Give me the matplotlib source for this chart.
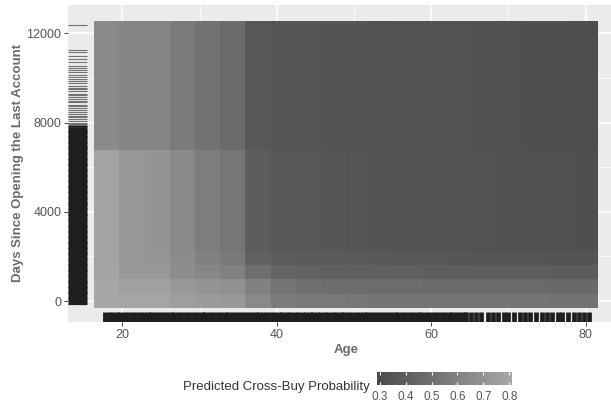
import numpy as np
import matplotlib.pyplot as plt
import matplotlib.transforms as mtransforms
from matplotlib.colors import LinearSegmentedColormap

plt.rcParams['font.family'] = ['Liberation Sans', 'DejaVu Sans']

# grid of the partial dependence (tile centres)
age_grid = [18.00, 21.26, 24.53, 27.79, 31.05, 34.32, 37.58, 40.84, 44.11, 47.37,
            50.63, 53.89, 57.16, 60.42, 63.68, 66.95, 70.21, 73.47, 76.74, 80.00]
days_grid = [0, 645, 1289, 1934, 2579, 3224, 3868, 4513, 5158, 5803,
             6447, 7092, 7737, 8382, 9026, 9671, 10316, 10961, 11605, 12250]

# predicted cross-buy probability per age column, for each band of days
pd_row0 = [0.815, 0.799, 0.799, 0.759, 0.742, 0.725, 0.640, 0.572, 0.556, 0.544,
           0.539, 0.533, 0.533, 0.527, 0.527, 0.522, 0.522, 0.522, 0.516, 0.516]
pd_row1 = [0.810, 0.770, 0.770, 0.725, 0.702, 0.680, 0.595, 0.522, 0.505, 0.493,
           0.488, 0.482, 0.482, 0.476, 0.476, 0.471, 0.471, 0.471, 0.465, 0.465]
pd_row2 = [0.793, 0.725, 0.725, 0.663, 0.629, 0.595, 0.499, 0.437, 0.426, 0.420,
           0.414, 0.409, 0.409, 0.403, 0.403, 0.397, 0.397, 0.397, 0.392, 0.392]
pd_row3 = [0.787, 0.725, 0.708, 0.652, 0.595, 0.550, 0.420, 0.392, 0.386, 0.380,
           0.375, 0.369, 0.364, 0.364, 0.358, 0.358, 0.352, 0.352, 0.347, 0.347]
pd_mid = [0.787, 0.719, 0.702, 0.640, 0.578, 0.539, 0.397, 0.369, 0.363, 0.358,
          0.352, 0.347, 0.341, 0.341, 0.341, 0.335, 0.330, 0.330, 0.324, 0.318]
pd_upper = [0.646, 0.623, 0.618, 0.561, 0.516, 0.476, 0.363, 0.352, 0.352, 0.347,
            0.347, 0.341, 0.335, 0.335, 0.335, 0.330, 0.324, 0.318, 0.318, 0.313]

# observed values for the rugs
rug_days_dense = [0, 250, 500, 750, 1000, 1250, 1500, 1750, 2000, 2250, 2500, 2750,
                  3000, 3250, 3500, 3750, 4000, 4250, 4500, 4750, 5000, 5250, 5500,
                  5750, 6000, 6250, 6500, 6750, 7000, 7250, 7500, 7700]
rug_days_sparse = [7800, 7870, 7950, 8000, 8050, 8150, 8230, 8300, 8400, 8480, 8560,
                   8650, 8720, 8800, 8900, 8960, 9050, 9150, 9230, 9300, 9400, 9500,
                   9560, 9650, 9750, 9850, 9950, 10050, 10150, 10250, 10350, 10450,
                   10550, 10700, 10850, 11000, 11150, 11250, 12350]
rug_age_dense = [18, 19, 20, 21, 22, 23, 24, 25, 26, 27, 28, 29, 30, 31, 32, 33, 34,
                 35, 36, 37, 38, 39, 40, 41, 42, 43, 44, 45, 46, 47, 48, 49, 50, 51,
                 52, 53, 54, 55, 56, 57, 58, 59, 60, 61, 62, 63, 64]
rug_age_sparse = [64.5, 65.2, 65.8, 66.5, 67.3, 68.0, 68.6, 69.4, 70.0, 70.7, 71.5,
                  72.1, 72.8, 73.6, 74.3, 75.0, 75.6, 76.4, 77.0, 77.7, 78.5, 79.2,
                  79.8, 80.4]

z = np.vstack([pd_row0, pd_row1, pd_row2, pd_row3] + [pd_mid] * 7 + [pd_upper] * 9)

fig = plt.figure(figsize=(6.11, 4.04), dpi=100)
ax = fig.add_axes([68.3 / 611, 1 - 322.3 / 404, (623.4 - 68.3) / 611, (322.3 - 5) / 404])
ax.set_facecolor('#ebebed')
ax.set_axisbelow(True)

cmap = LinearSegmentedColormap.from_list('greys_pd', ['#4a4a4d', '#a7a7aa'])
mesh = ax.pcolormesh(age_grid, days_grid, z, cmap=cmap, vmin=0.29, vmax=0.81,
                     shading='nearest', zorder=2)

# rugs along the panel edges (3% of the panel)
ty = mtransforms.blended_transform_factory(ax.transAxes, ax.transData)
tx = mtransforms.blended_transform_factory(ax.transData, ax.transAxes)
ax.hlines(rug_days_dense, 0, 0.033, transform=ty, color='#1e1e1e', lw=5.2, zorder=3)
ax.hlines(rug_days_sparse, 0, 0.033, transform=ty, color='#333333', lw=0.8,
          alpha=0.65, zorder=3)
ax.vlines(rug_age_dense, 0, 0.031, transform=tx, color='#1e1e1e', lw=6.4, zorder=3)
ax.vlines(rug_age_sparse, 0, 0.031, transform=tx, color='#1e1e1e', lw=3.4, zorder=3)

ax.set_xlim(13.0, 84.9)
ax.set_ylim(-954, 13268)
ax.set_xticks([20, 40, 60, 80])
ax.set_xticks([30, 50, 70], minor=True)
ax.set_yticks([0, 4000, 8000, 12000])
ax.set_yticks([2000, 6000, 10000], minor=True)
ax.grid(which='major', color='white', lw=1.1)
ax.grid(which='minor', color='white', lw=0.55)
for s in ax.spines.values():
    s.set_visible(False)
ax.tick_params(which='major', length=3, width=0.7, color='#444444',
               labelcolor='#555555', labelsize=9, pad=2)
ax.tick_params(which='minor', length=0)

fig.text(346 / 611, 1 - 350 / 404, 'Age', ha='center', va='center',
         fontsize=9.5, fontweight='bold', color='#6a6a6a')
fig.text(18 / 611, 1 - 163 / 404, 'Days Since Opening the Last Account',
         ha='center', va='center', rotation=90,
         fontsize=9.5, fontweight='bold', color='#6a6a6a')

# colour bar legend
cax = fig.add_axes([377 / 611, 1 - 385 / 404, 135 / 611, 13 / 404])
cb = fig.colorbar(mesh, cax=cax, orientation='horizontal',
                  ticks=[0.3, 0.4, 0.5, 0.6, 0.7, 0.8])
cb.outline.set_visible(False)
cb.minorticks_off()
for s in cax.spines.values():
    s.set_visible(False)
cax.set_yticks([])
cax.tick_params(axis='x', which='major', direction='in', top=True, bottom=True,
                length=2.5, width=0.8, color='white', labelsize=8.5,
                labelcolor='#555555', pad=4)
fig.text(370 / 611, 1 - 387 / 404, 'Predicted Cross-Buy Probability',
         ha='right', va='center', fontsize=9.5, color='#333333')

fig.savefig('out.png', dpi=100)
